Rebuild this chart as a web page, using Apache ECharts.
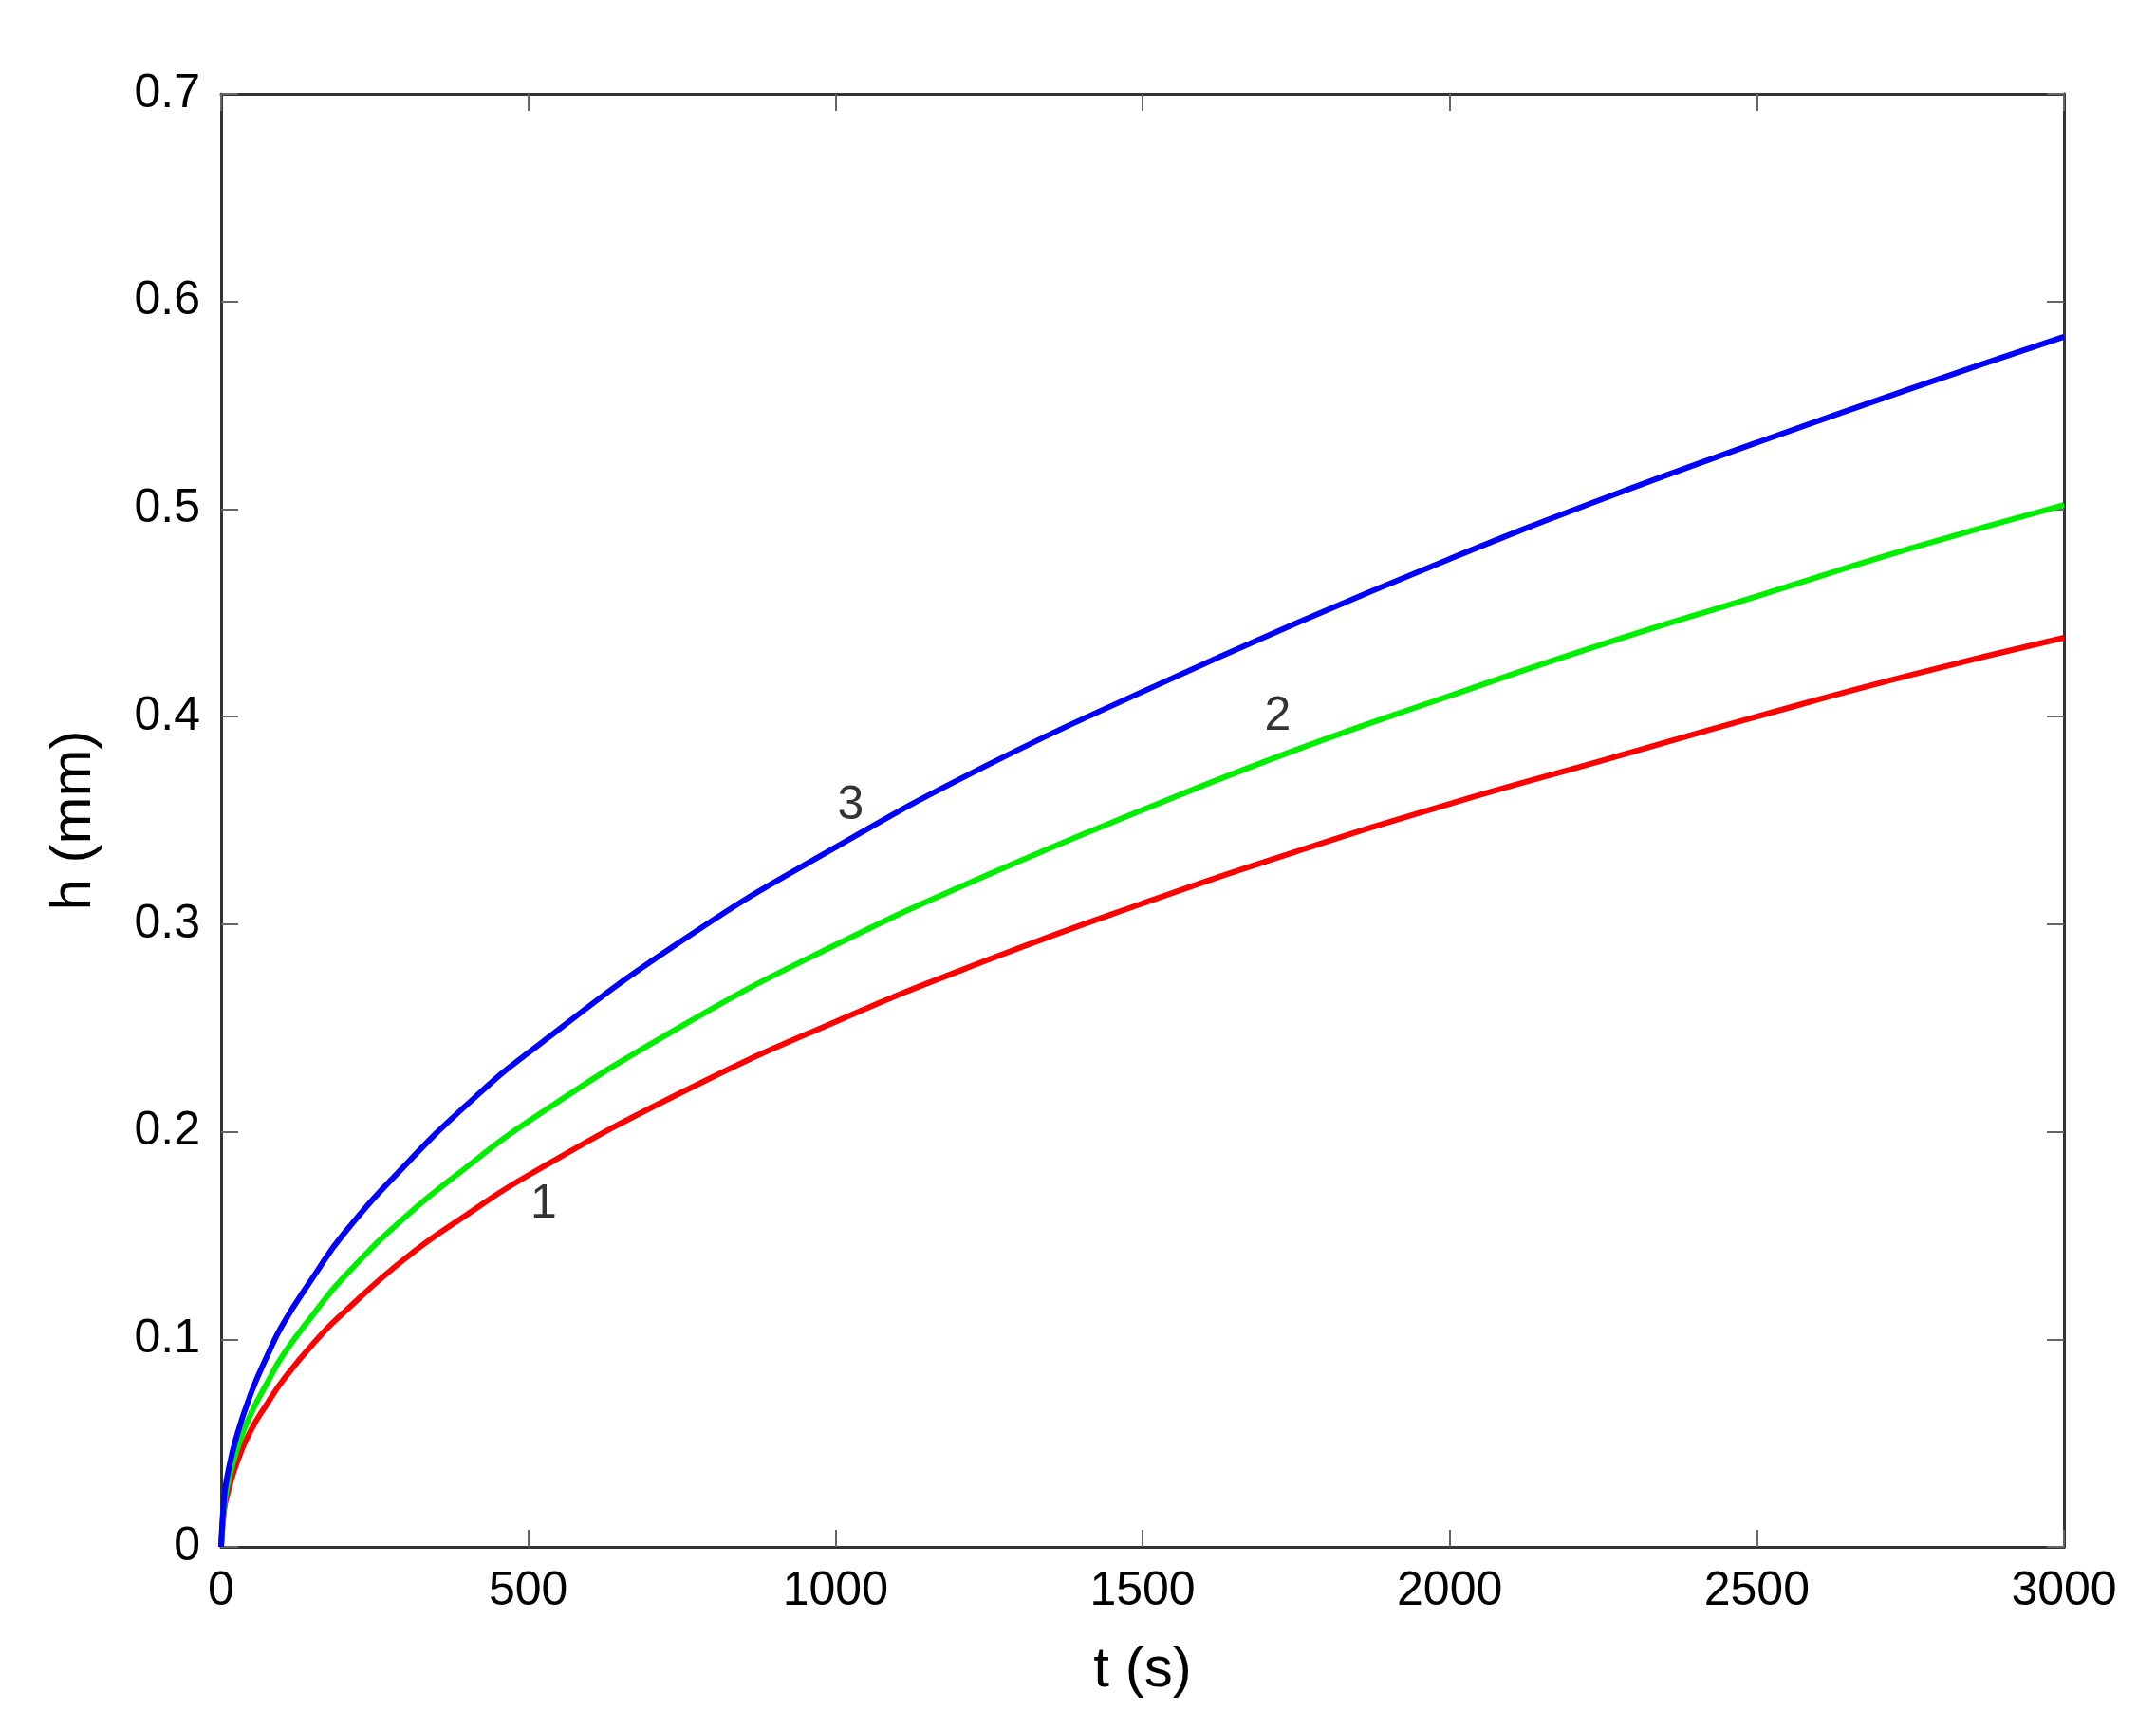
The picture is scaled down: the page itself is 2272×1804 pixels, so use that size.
<!DOCTYPE html><html><head><meta charset="utf-8"><script src="https://cdn.jsdelivr.net/npm/echarts@6/dist/echarts.min.js"></script><style>html,body{margin:0;background:#fff}#c{width:2272px;height:1804px}</style></head><body><div id="c"></div><script>
const tVals=[0,5,10,25,50,75,100,150,200,300,400,500,750,1000,1250,1500,1750,2000,2250,2500,2750,3000];
const curve1=[0,0.018,0.025,0.04,0.057,0.069,0.08,0.098,0.113,0.139,0.16,0.179,0.219,0.253,0.283,0.31,0.335,0.358,0.379,0.40,0.42,0.438];
const curve2=[0,0.02,0.029,0.046,0.065,0.079,0.092,0.112,0.13,0.159,0.183,0.205,0.251,0.29,0.324,0.355,0.384,0.41,0.435,0.458,0.481,0.502];
const curve3=[0,0.024,0.034,0.053,0.075,0.092,0.107,0.13,0.151,0.184,0.213,0.238,0.292,0.337,0.377,0.412,0.445,0.476,0.505,0.532,0.558,0.583];
const curveLabels=[["1",525,0.165],["2",1720,0.40],["3",1025,0.357]];
const F='"Liberation Sans", Arial, sans-serif';
const pair=a=>tVals.map((t,i)=>[t,a[i]]);
const ax=()=>({axisLine:{show:true,onZero:false,lineStyle:{color:'#333',width:3}},axisTick:{show:true,inside:true,length:18,lineStyle:{color:'#666',width:2}},splitLine:{show:false}});
const c=echarts.init(document.getElementById('c'));
c.setOption({animation:false,grid:{left:233,right:2272-2175,top:99,bottom:1804-1630},
xAxis:[Object.assign({type:'value',min:0,max:3000,interval:500,name:'t (s)',nameLocation:'middle',nameGap:100,nameTextStyle:{fontFamily:F,fontSize:60,color:'#000'},axisLabel:{fontFamily:F,fontSize:50,color:'#000',margin:22,formatter:v=>String(v)}},ax()),
 Object.assign({type:'value',position:'top',min:0,max:3000,interval:500,axisLabel:{show:false}},ax())],
yAxis:[Object.assign({type:'value',min:0,max:0.7,interval:0.1,name:'h (mm)',nameLocation:'middle',nameGap:125,nameTextStyle:{fontFamily:F,fontSize:60,color:'#000'},axisLabel:{fontFamily:F,fontSize:50,color:'#000',margin:22,formatter:v=>v===0?'0':v.toFixed(1)}},ax()),
 Object.assign({type:'value',position:'right',min:0,max:0.7,interval:0.1,axisLabel:{show:false}},ax())],
series:[
{type:'line',data:pair(curve1),smooth:true,showSymbol:false,lineStyle:{color:'#ff0000',width:6}},
{type:'line',data:pair(curve2),smooth:true,showSymbol:false,lineStyle:{color:'#00ee00',width:6}},
{type:'line',data:pair(curve3),smooth:true,showSymbol:false,lineStyle:{color:'#0000ff',width:6}},
{type:'scatter',symbolSize:0,data:curveLabels.map(d=>({value:[d[1],d[2]],name:d[0]})),label:{show:true,position:'inside',formatter:p=>p.name,fontFamily:F,fontSize:50,color:'#000'}}
]});
</script></body></html>
